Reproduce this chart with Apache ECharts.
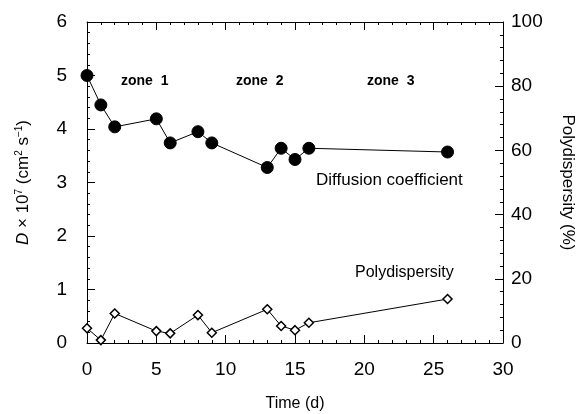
<!DOCTYPE html>
<html>
<head>
<meta charset="utf-8">
<script src="https://cdn.jsdelivr.net/npm/echarts@6/dist/echarts.min.js"></script>
<style>html,body{margin:0;padding:0;background:#fff}#c{width:576px;height:414px}</style>
</head>
<body>
<div id="c"></div>
<script>
const timeD = [0, 1, 2, 5, 6, 8, 9, 13, 14, 15, 16, 26];
const diffusion = [5.0, 4.45, 4.04, 4.19, 3.74, 3.95, 3.74, 3.28, 3.64, 3.43, 3.64, 3.57];
const timeP = [0, 1, 2, 5, 6, 8, 9, 13, 14, 15, 16, 26];
const polydispersity = [4.6, 0.9, 9.2, 3.7, 3.0, 8.7, 3.2, 10.5, 5.3, 4.0, 6.3, 13.7];
const zoneLabels = ['zone  1', 'zone  2', 'zone  3'];

const FONT = '"Liberation Sans", Arial, Helvetica, sans-serif';
const chart = echarts.init(document.getElementById('c'), null, {renderer: 'canvas'});
const axisCommon = {
  axisLine: {show: true, onZero: false, lineStyle: {color: '#000', width: 1}},
  splitLine: {show: false},
  axisTick: {show: true, inside: true, length: 8, lineStyle: {color: '#000'}},
  minorTick: {show: true, splitNumber: 5, length: 3, lineStyle: {color: '#000'}},
  axisLabel: {color: '#000', fontSize: 19, fontFamily: FONT}
};
const option = {
  animation: false,
  backgroundColor: '#fff',
  grid: {left: 87, right: 73, top: 22, bottom: 71, containLabel: false, outerBoundsMode: 'none'},
  xAxis: [
    Object.assign({}, axisCommon, {
      type: 'value', min: 0, max: 30, interval: 5, position: 'bottom',
      axisLabel: Object.assign({}, axisCommon.axisLabel, {margin: 17}),
      name: 'Time (d)', nameLocation: 'middle', nameGap: 53,
      nameTextStyle: {color: '#000', fontSize: 16, fontFamily: FONT}
    }),
    Object.assign({}, axisCommon, {
      type: 'value', min: 0, max: 30, interval: 5, position: 'top',
      axisLabel: {show: false}
    })
  ],
  yAxis: [
    Object.assign({}, axisCommon, {
      type: 'value', min: 0, max: 6, interval: 1, position: 'left',
      axisLabel: Object.assign({}, axisCommon.axisLabel, {margin: 20}),
      name: '{i|D} × 10{sup|7} (cm{sup|2} s{sup|−1})',
      nameLocation: 'middle', nameGap: 54, nameRotate: 90,
      nameTextStyle: {
        color: '#000', fontSize: 17, fontFamily: FONT,
        rich: {
          i: {fontStyle: 'italic', fontSize: 17, fontFamily: FONT, color: '#000'},
          sup: {fontSize: 10, verticalAlign: 'bottom', padding: [0, 0, 9, 0], fontFamily: FONT, color: '#000'}
        }
      }
    }),
    Object.assign({}, axisCommon, {
      type: 'value', min: 0, max: 100, interval: 20, position: 'right',
      axisLabel: Object.assign({}, axisCommon.axisLabel, {margin: 8}),
      name: 'Polydispersity (%)', nameLocation: 'middle', nameGap: 56, nameRotate: -90,
      nameTextStyle: {color: '#000', fontSize: 17, fontFamily: FONT}
    })
  ],
  series: [
    {
      name: 'Diffusion coefficient', type: 'line', xAxisIndex: 0, yAxisIndex: 0,
      data: timeD.map((t, i) => [t, diffusion[i]]),
      symbol: 'circle', symbolSize: 12,
      itemStyle: {color: '#000', borderColor: '#000'},
      lineStyle: {color: '#000', width: 1}
    },
    {
      name: 'Polydispersity', type: 'line', xAxisIndex: 0, yAxisIndex: 1,
      data: timeP.map((t, i) => [t, polydispersity[i]]),
      symbol: 'diamond', symbolSize: 9,
      itemStyle: {color: '#fff', borderColor: '#000', borderWidth: 1.5},
      lineStyle: {color: '#000', width: 1}
    }
  ],
  graphic: [
    {type: 'text', left: 121, top: 74, style: {text: zoneLabels[0], font: 'bold 14px ' + FONT, fill: '#000'}},
    {type: 'text', left: 236, top: 74, style: {text: zoneLabels[1], font: 'bold 14px ' + FONT, fill: '#000'}},
    {type: 'text', left: 367, top: 74, style: {text: zoneLabels[2], font: 'bold 14px ' + FONT, fill: '#000'}},
    {type: 'text', left: 316, top: 172, style: {text: 'Diffusion coefficient', font: '17px ' + FONT, fill: '#000'}},
    {type: 'text', left: 355, top: 265, style: {text: 'Polydispersity', font: '16px ' + FONT, fill: '#000'}}
  ]
};
chart.setOption(option);
</script>
</body>
</html>
